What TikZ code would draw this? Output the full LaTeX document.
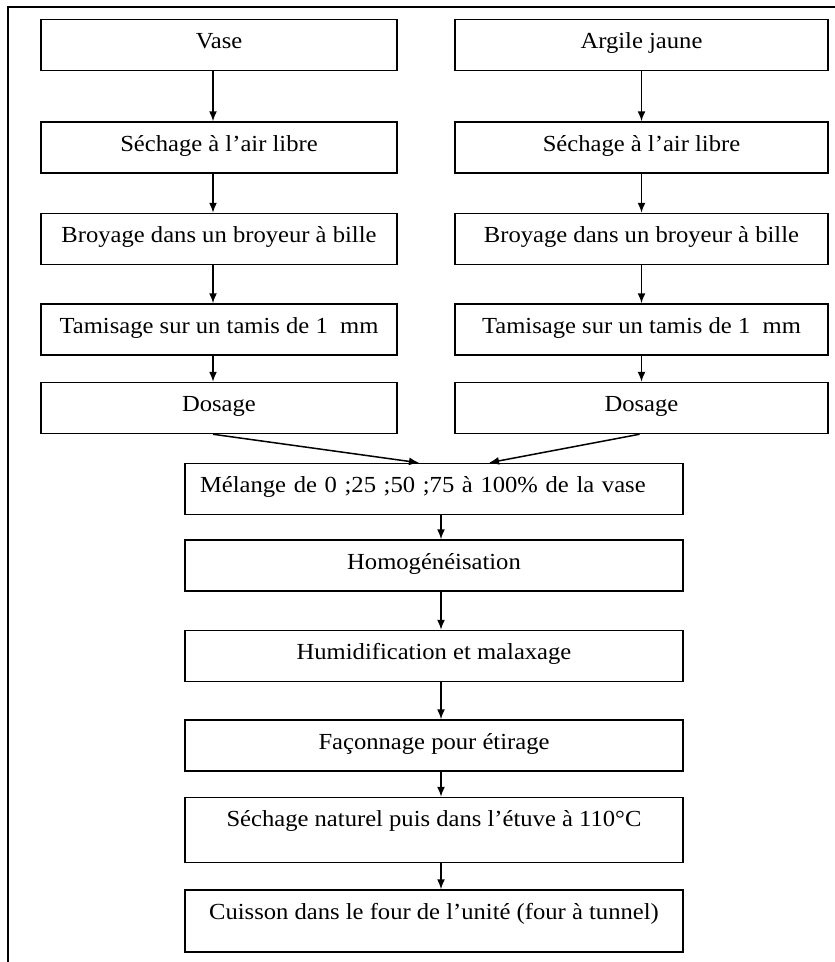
\documentclass[tikz,border=0pt]{standalone}
\usepackage{fontspec}
\setmainfont[FakeStretch=1.07]{Liberation Serif}
\usetikzlibrary{arrows.meta,positioning}

\begin{document}
\begin{tikzpicture}[x=1pt,y=1pt,>={Latex[length=10pt,width=8pt]},
                    line width=1.5pt]
  \tikzstyle{etape}=[draw,rectangle,minimum height=51pt,inner sep=0pt,
                     text height=15pt,text depth=8pt,
                     font=\fontsize{23}{28}\selectfont]
  \tikzstyle{gauche}=[etape,minimum width=356pt]
  \tikzstyle{droite}=[etape,minimum width=373pt]
  \tikzstyle{centre}=[etape,minimum width=498pt]

  \useasboundingbox (0,0) rectangle (835,-962);

  % cadre
  \coordinate (cadreB) at (8,-970);
  \coordinate (cadreA) at (8,-7);
  \coordinate (cadreD) at (845,-7);
  \draw[line width=1.8pt] (cadreB) -- (cadreA) -- (cadreD);

  % colonne de gauche
  \node[gauche] (vase)  at (219,-45)      {Vase};
  \node[gauche] (sechG) [below=50pt of vase]  {Séchage à l’air libre};
  \node[gauche] (broyG) [below=39pt of sechG] {Broyage dans un broyeur à bille};
  \node[gauche] (tamG)  [below=38pt of broyG] {Tamisage sur un tamis de 1\ \ mm};
  \node[gauche] (dosG)  [below=26pt of tamG]  {Dosage};

  % colonne de droite
  \node[droite] (argile) at (641.5,-45)   {Argile jaune};
  \node[droite] (sechD) [below=50pt of argile] {Séchage à l’air libre};
  \node[droite] (broyD) [below=39pt of sechD]  {Broyage dans un broyeur à bille};
  \node[droite] (tamD)  [below=38pt of broyD]  {Tamisage sur un tamis de 1\ \ mm};
  \node[droite] (dosD)  [below=26pt of tamD]   {Dosage};

  % melange et suite
  \node[centre,text width=468pt,inner xsep=15pt,align=left] (melange) at (434,-489)
        {Mélange de 0 ;25 ;50 ;75 à 100\% de la vase};
  \node[centre] (homog)   [below=24pt of melange] {Homogénéisation};
  \node[centre] (humid)   [below=38pt of homog]   {Humidification et malaxage};
  \node[centre] (faconn)  [below=37pt of humid]   {Façonnage pour étirage};
  \node[centre,text depth=22pt,minimum height=65pt] (sechN) [below=25pt of faconn]
        {Séchage naturel puis dans l’étuve à 110°C};
  \node[centre,text depth=19pt,minimum height=62pt] (cuisson) [below=26pt of sechN]
        {Cuisson dans le four de l’unité (four à tunnel)};

  \foreach \a/\b in {vase/sechG,sechG/broyG,broyG/tamG,tamG/dosG}
    \draw[->] ([xshift=-6pt]\a.south) -- ([xshift=-6pt]\b.north);
  \foreach \a/\b in {argile/sechD,sechD/broyD,broyD/tamD,tamD/dosD}
    \draw[->] (\a.south) -- (\b.north);
  \foreach \a/\b in {melange/homog,homog/humid,humid/faconn,faconn/sechN,sechN/cuisson}
    \draw[->] ([xshift=7pt]\a.south) -- ([xshift=7pt]\b.north);
  \draw[->] ([xshift=-6pt]dosG.south) -- ([xshift=-15pt]melange.north);
  \draw[->] ([xshift=-2pt]dosD.south) -- ([xshift=55pt]melange.north);
\end{tikzpicture}
\end{document}
